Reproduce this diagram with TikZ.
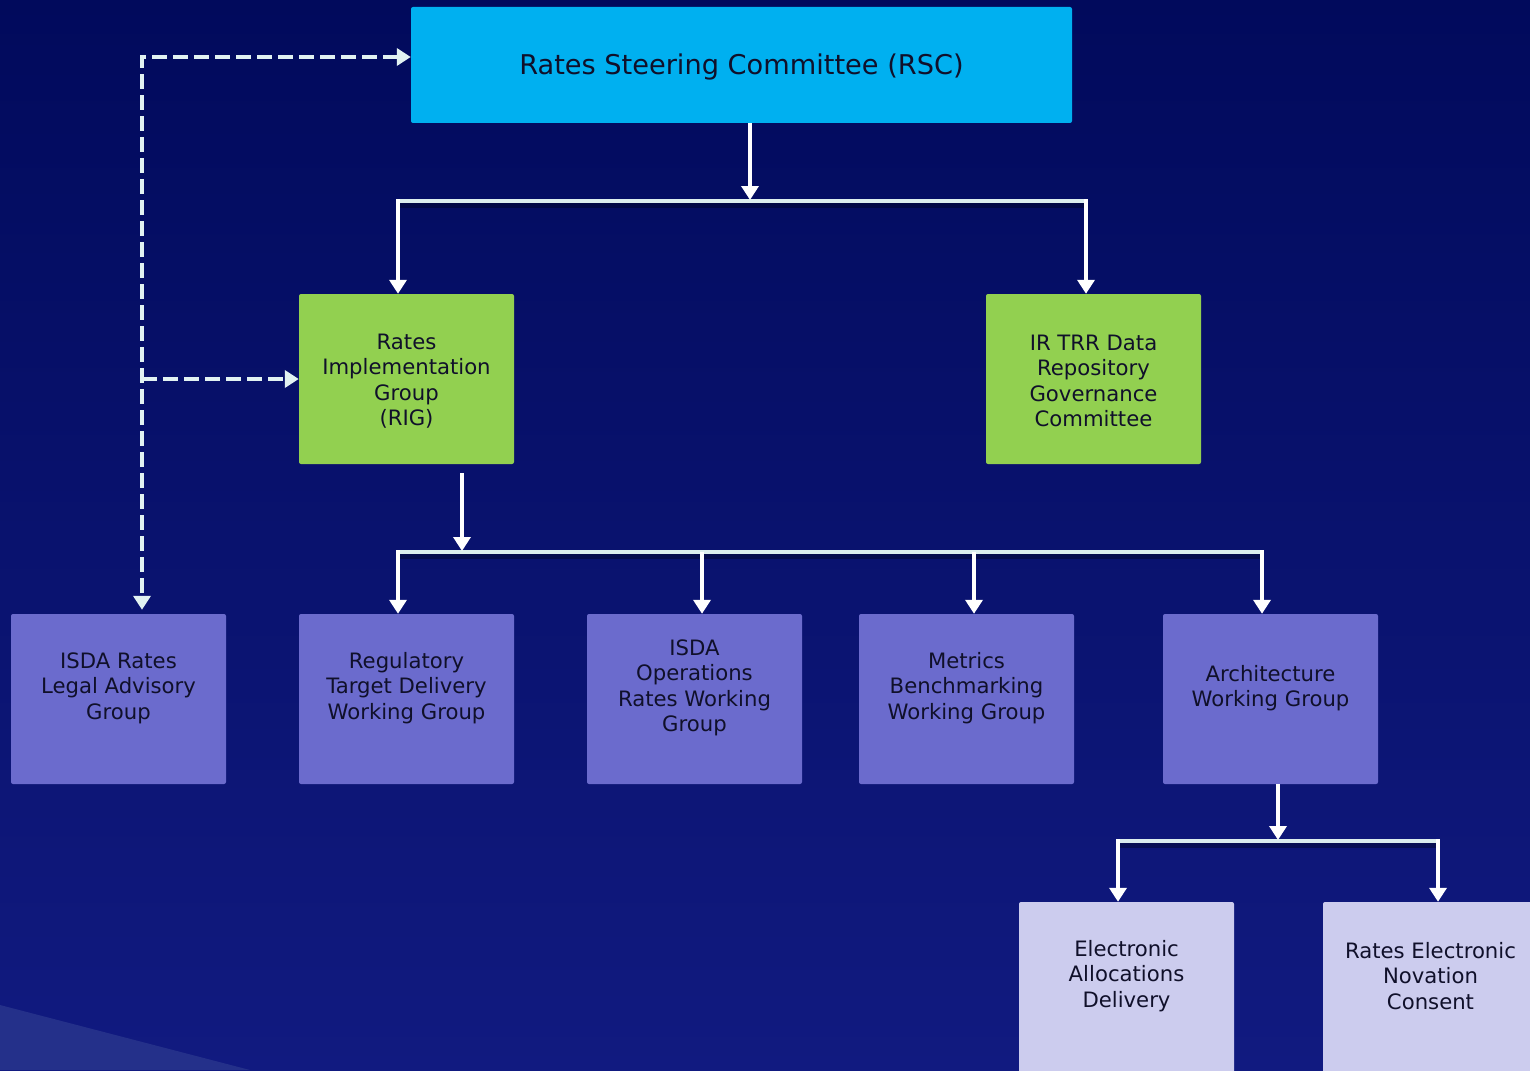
\documentclass[tikz,border=0pt]{standalone}
\usepackage{fontspec}
\setmainfont{DejaVu Sans}
\usetikzlibrary{arrows.meta}
\definecolor{bgtop}{HTML}{010A5C}
\definecolor{bgbot}{HTML}{111A80}
\definecolor{wedgec}{HTML}{24308A}
\definecolor{rscc}{HTML}{00B0F0}
\definecolor{greenc}{HTML}{92D050}
\definecolor{purpc}{HTML}{6B6BCD}
\definecolor{lightc}{HTML}{CCCCEE}
\definecolor{busc}{HTML}{DCEEEE}
\definecolor{dashc}{HTML}{E2F2F2}
\definecolor{txtc}{HTML}{10102A}
\begin{document}
\begin{tikzpicture}[x=1pt,y=-1pt,
  box/.style={draw=none, rounded corners=2pt, inner sep=0pt},
  txt/.style={font=\fontsize{21.2}{25.4}\selectfont, align=center, text=txtc, inner sep=0pt},
  arr/.style={draw=white, line width=4pt, -{Triangle[width=17pt,length=14pt]}},
  bus/.style={draw=busc, line width=4pt},
  busshadow/.style={draw=black, opacity=0.3, line width=5pt, transform canvas={yshift=-4pt}},
  dasharr/.style={draw=dashc, line width=4pt, dash pattern=on 15pt off 6pt,
     {Triangle[width=17pt,length=14pt]}-{Triangle[width=17pt,length=14pt]}}]
\useasboundingbox (0,0) rectangle (1530,1070);
\clip (0,0) rectangle (1530,1070);
\shade[top color=bgtop,bottom color=bgbot] (0,0) rectangle (1530,1070);
\fill[wedgec] (0,1005) -- (250,1070) -- (0,1070) -- cycle;

% boxes
\node[box, fill=rscc, minimum width=661pt, minimum height=116pt] (rsc) at (741.5,65) {};
\node[box, fill=greenc, minimum width=215pt, minimum height=170pt] (rig) at (406.5,379) {};
\node[box, fill=greenc, minimum width=215pt, minimum height=170pt] (irtrr) at (1093.5,379) {};
\node[box, fill=purpc, minimum width=215pt, minimum height=170pt] (legal) at (118.5,699) {};
\node[box, fill=purpc, minimum width=215pt, minimum height=170pt] (reg) at (406.5,699) {};
\node[box, fill=purpc, minimum width=215pt, minimum height=170pt] (ops) at (694.5,699) {};
\node[box, fill=purpc, minimum width=215pt, minimum height=170pt] (met) at (966.5,699) {};
\node[box, fill=purpc, minimum width=215pt, minimum height=170pt] (arch) at (1270.5,699) {};
\node[box, fill=lightc, minimum width=215pt, minimum height=188pt] (ead) at (1126.5,996) {};
\node[box, fill=lightc, minimum width=215pt, minimum height=188pt] (renc) at (1430.5,996) {};

% texts
\node[txt, font=\fontsize{27.2}{32}\selectfont] (rsct) at (741.5,67) {Rates Steering Committee (RSC)};
\node[txt] (rigt) at (406.5,381) {Rates\\Implementation\\Group\\(RIG)};
\node[txt] (irtrrt) at (1093.5,381) {IR TRR Data\\Repository\\Governance\\Committee};
\node[txt] (legalt) at (118.5,688) {ISDA Rates\\Legal Advisory\\Group};
\node[txt] (regt) at (406.5,688) {Regulatory\\Target Delivery\\Working Group};
\node[txt] (opst) at (694.5,688) {ISDA\\Operations\\Rates Working\\Group};
\node[txt] (mett) at (966.5,688) {Metrics\\Benchmarking\\Working Group};
\node[txt] (archt) at (1270.5,688) {Architecture\\Working Group};
\node[txt] (eadt) at (1126.5,976) {Electronic\\Allocations\\Delivery};
\node[txt] (renct) at (1430.5,976) {Rates Electronic\\Novation\\Consent};

% level 1
\coordinate (b1) at (750,201);
\coordinate (b1l) at (398,201);
\coordinate (b1r) at (1086,201);
\draw[busshadow] (b1l) -- (b1r);
\draw[bus] (b1l) -- (b1r);
\draw[arr, shorten >=1pt] (rsc.south -| b1) -- (b1);
\draw[arr] ([yshift=2pt]b1l) -- (b1l |- rig.north);
\draw[arr] ([yshift=2pt]b1r) -- (b1r |- irtrr.north);

% level 2
\coordinate (b2) at (462,552);
\coordinate (b2l) at (398,552);
\coordinate (b2r) at (1262,552);
\coordinate (b2o) at (702,552);
\coordinate (b2m) at (974,552);
\coordinate (r2) at (rig.south -| b2);
\draw[busshadow] (b2l) -- (b2r);
\draw[bus] (b2l) -- (b2r);
\draw[arr, shorten >=1pt] ([yshift=-9pt]r2) -- (b2);
\draw[arr] ([yshift=2pt]b2l) -- (b2l |- reg.north);
\draw[arr] (b2o) -- (b2o |- ops.north);
\draw[arr] (b2m) -- (b2m |- met.north);
\draw[arr] ([yshift=2pt]b2r) -- (b2r |- arch.north);

% level 3
\coordinate (b3) at (1278,841);
\coordinate (b3l) at (1118,841);
\coordinate (b3r) at (1438,841);
\draw[busshadow] (b3l) -- (b3r);
\draw[bus] (b3l) -- (b3r);
\draw[arr, shorten >=1pt] (arch.south -| b3) -- (b3);
\draw[arr] ([yshift=2pt]b3l) -- (b3l |- ead.north);
\draw[arr] ([yshift=2pt]b3r) -- (b3r |- renc.north);

% dashed advisory links
\coordinate (dc) at (142,57);
\draw[dasharr, shorten >=4pt] (rsc.west |- dc) -- (dc) -- (dc |- legal.north);
\draw[dasharr, -{Triangle[width=17pt,length=14pt]}] (dc |- rig.west) -- (rig.west);
\end{tikzpicture}
\end{document}
